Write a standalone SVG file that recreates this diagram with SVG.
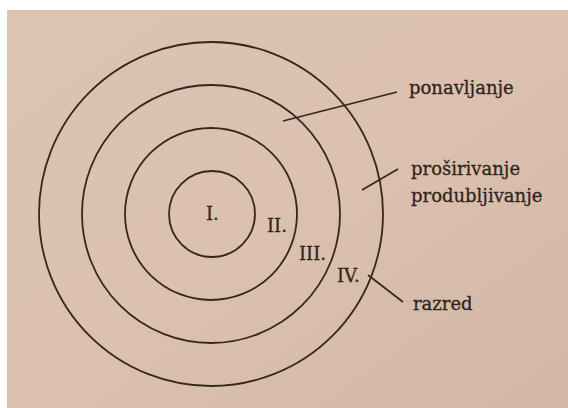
<svg xmlns="http://www.w3.org/2000/svg" width="568" height="408" viewBox="0 0 568 408">
  <defs>
    <linearGradient id="paper" x1="0" y1="0" x2="1" y2="1">
      <stop offset="0" stop-color="#dcc4b3"/>
      <stop offset="0.5" stop-color="#dbc1ae"/>
      <stop offset="1" stop-color="#d3b7a4"/>
    </linearGradient>
  </defs>
  <style>
    .ring { fill: none; stroke: #35271f; stroke-width: 1.8; }
    .lead { fill: none; stroke: #35271f; stroke-width: 1.7; }
    .t { font-family: "DejaVu Serif", "Liberation Serif", serif; font-size: 18px; fill: #30241e; stroke: #30241e; stroke-width: 0.3; }
  </style>
  <rect x="0" y="0" width="568" height="408" fill="#ffffff"/>
  <rect x="7" y="10" width="561" height="398" fill="url(#paper)"/>

  <g id="ring-IV">
    <circle class="ring" cx="211" cy="214" r="172"/>
    <text class="t" x="337" y="282">IV.</text>
  </g>
  <g id="ring-III">
    <circle class="ring" cx="211" cy="214" r="129"/>
    <text class="t" x="299" y="260">III.</text>
  </g>
  <g id="ring-II">
    <circle class="ring" cx="211" cy="214" r="86"/>
    <text class="t" x="267" y="232">II.</text>
  </g>
  <g id="ring-I">
    <circle class="ring" cx="212" cy="214" r="43"/>
    <text class="t" x="206" y="220">I.</text>
  </g>

  <g id="label-ponavljanje">
    <text class="t" x="409" y="94">ponavljanje</text>
  </g>
  <g id="label-prosirivanje">
    <text class="t" x="411" y="175">proširivanje</text>
    <text class="t" x="411" y="202">produbljivanje</text>
  </g>
  <g id="label-razred">
    <text class="t" x="413" y="310">razred</text>
  </g>

  <g id="connectors">
    <line class="lead" x1="283" y1="121" x2="397" y2="92"/>
    <line class="lead" x1="362" y1="190" x2="398" y2="169"/>
    <line class="lead" x1="368" y1="275" x2="403" y2="302"/>
  </g>
</svg>
